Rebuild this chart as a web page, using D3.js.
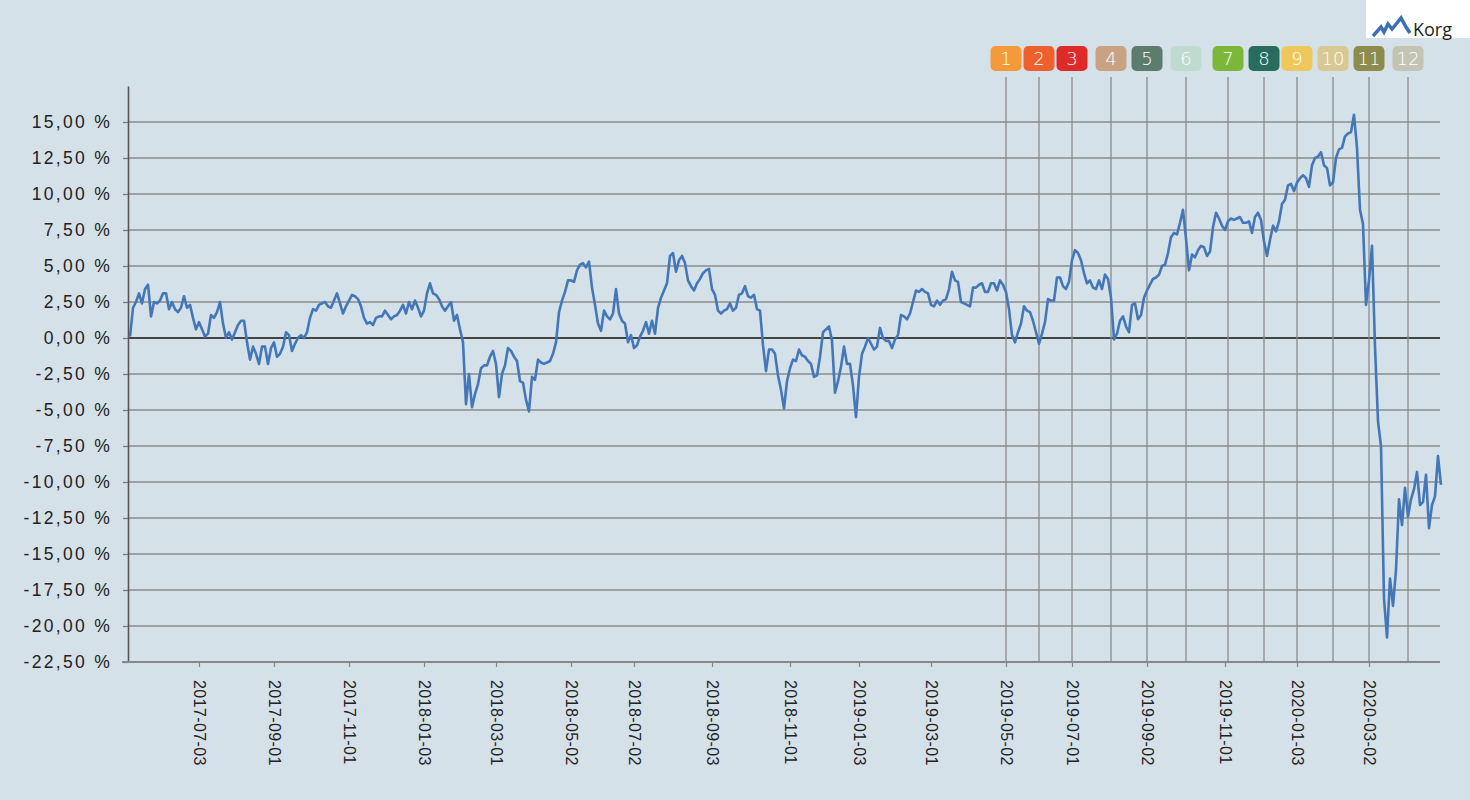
<!DOCTYPE html>
<html>
<head>
<meta charset="utf-8">
<script src="https://cdn.jsdelivr.net/npm/d3@7"></script>
<style>
  body { margin: 0; background: #d5e1e8; }
  svg { display: block; font-family: "DejaVu Sans", sans-serif; }
</style>
</head>
<body>
<div id="chart"></div>
<script>
// Avkastning (%) för korgen, ett värde per steg längs tidsaxeln
const avkastning = [
    0.1, 2.1, 2.5, 3.1, 2.4, 3.4, 3.7, 1.5, 2.5, 2.4,
    2.6, 3.1, 3.1, 2.0, 2.5, 2.0, 1.8, 2.1, 2.9, 2.1,
    2.3, 1.4, 0.6, 1.1, 0.6, 0.1, 0.3, 1.6, 1.4, 1.8,
    2.5, 1.0, 0.0, 0.4, -0.1, 0.4, 0.9, 1.2, 1.2, -0.3,
    -1.5, -0.6, -1.1, -1.8, -0.6, -0.6, -1.8, -0.7, -0.3, -1.3,
    -1.1, -0.6,
    0.4, 0.2, -0.9, -0.4, 0.0, 0.2, 0.0, 0.4, 1.4, 2.0,
    1.9, 2.3, 2.4, 2.5, 2.2, 2.1, 2.6, 3.1, 2.4, 1.7,
    2.2, 2.6, 3.0, 2.9, 2.7, 2.2, 1.4, 1.0, 1.1, 0.9,
    1.4, 1.5, 1.5, 1.9, 1.6, 1.3, 1.5, 1.6, 1.9, 2.3,
    1.7, 2.5, 2.0, 2.6, 2.1, 1.5, 1.9, 3.1, 3.8,
    3.1, 3.0, 2.7, 2.2, 1.9, 2.2, 2.5, 1.2, 1.6, 0.6,
    -0.3, -4.6, -2.5, -4.8, -3.9, -3.2, -2.1, -1.9, -1.9, -1.3,
    -0.9, -1.8, -4.1, -2.5, -1.9, -0.7, -0.9, -1.3, -1.6, -3.0,
    -3.1, -4.3, -5.1, -2.7, -2.9, -1.5, -1.7, -1.8, -1.7, -1.6,
    -1.1, -0.3, 1.8, 2.6, 3.2, 4.0, 4.0, 3.9, 4.7,
    5.1, 5.2, 4.9, 5.3, 3.5, 2.3, 1.0, 0.5, 1.9, 1.5,
    1.3, 1.7, 3.4, 1.7, 1.2, 1.0, -0.3, 0.2, -0.7, -0.5,
    0.1, 0.5, 1.1, 0.3, 1.2, 0.3, 2.1, 2.8, 3.3, 3.8,
    5.7, 5.9, 4.6, 5.4, 5.7, 5.2, 4.0, 3.6, 3.3, 3.8,
    4.1, 4.5, 4.7, 4.8, 3.4, 3.0, 1.9, 1.7, 1.9, 2.0,
    2.4, 1.9, 2.1, 3.0, 3.1, 3.6, 2.9, 2.8, 3.0, 2.0,
    1.9, -0.5, -2.3, -0.8, -0.8, -1.1, -2.6, -3.6, -4.9, -3.0,
    -2.1, -1.5, -1.6, -0.8, -1.2, -1.3, -1.6, -1.8, -2.7, -2.6,
    -1.3, 0.4, 0.6, 0.8, -0.2, -3.8, -3.0, -2.0, -0.6, -1.8,
    -1.8, -3.3, -5.5, -2.7, -1.1, -0.6, 0.0, -0.4, -0.8, -0.6,
    0.7, 0.0, -0.2, -0.2, -0.7, -0.1, 0.2, 1.6, 1.5, 1.3,
    1.7, 2.5, 3.3, 3.2, 3.4, 3.2, 3.1, 2.3, 2.2, 2.6,
    2.3, 2.6, 2.7, 3.4, 4.6, 4.0, 3.9, 2.5, 2.4, 2.3,
    2.2, 3.5, 3.5, 3.7, 3.8, 3.2, 3.2, 3.8, 3.8, 3.3,
    4.0, 3.7, 3.2, 2.0, 0.2, -0.3, 0.4, 1.0, 2.2, 1.9,
    1.8, 1.2, 0.4, -0.4, 0.3, 1.1, 2.7, 2.6, 2.6, 4.2,
    4.2, 3.6, 3.4, 3.9, 5.4, 6.1, 5.9, 5.4, 4.5, 3.8,
    4.0, 3.5, 3.4, 4.0, 3.4, 4.4, 4.1, 2.8, -0.1, 0.3,
    1.2, 1.5, 0.8, 0.4, 2.3, 2.4, 1.3, 1.6, 2.8, 3.3,
    3.7, 4.1, 4.2, 4.4, 5.0, 5.1, 5.9, 7.0, 7.3, 7.2,
    8.0, 8.9, 6.9, 4.7, 5.8, 5.6, 6.1, 6.4, 6.3, 5.7,
    6.0, 7.7, 8.7, 8.3, 7.8, 7.5, 8.1, 8.3, 8.2, 8.3,
    8.4, 8.0, 8.0, 8.1, 7.3, 8.4, 8.7, 8.2, 6.7, 5.7,
    6.8, 7.8, 7.4, 8.1, 9.3, 9.6, 10.6, 10.7, 10.2, 10.8,
    11.1, 11.3, 11.1, 10.5, 12.0, 12.5, 12.6, 12.9, 12.0, 11.8,
    10.6, 10.8, 12.5, 13.1, 13.2, 14.0, 14.2, 14.3, 15.5, 13.2,
    8.9, 7.9, 2.3, 4.0, 6.4, -0.6, -5.8, -7.5, -18.1, -20.8,
    -16.7, -18.6, -16.1, -11.2, -13.0, -10.4, -12.4, -11.2, -10.5, -9.3,
    -11.6, -11.4, -9.5, -13.2, -11.6, -11.0, -8.2, -10.2
];

// Datumetiketter på x-axeln och var i serien de hamnar
const tickLabels = ['2017-07-03', '2017-09-01', '2017-11-01', '2018-01-03', '2018-03-01',
    '2018-05-02', '2018-07-02', '2018-09-03', '2018-11-01', '2019-01-03', '2019-03-01',
    '2019-05-02', '2019-07-01', '2019-09-02', '2019-11-01', '2020-01-03', '2020-03-02'];
const tickIndex = [23, 48, 73, 98, 122, 147, 168, 194, 220, 243, 267, 292, 314, 339, 365, 389, 413];

// Numrerade händelsemarkeringar
const markerLabels = ['1', '2', '3', '4', '5', '6', '7', '8', '9', '10', '11', '12'];
const markerIndex = [292, 303, 314, 327, 339, 352, 366, 378, 389, 401, 413, 426];
const markerColors = ['#f59a3a', '#ee612d', '#df2b27', '#c9a284', '#5b7c6e', '#bfdbd0',
    '#7db73a', '#286d5b', '#efc85b', '#d8c994', '#8c8d4d', '#c3c4b3'];

const yTicks = [15, 12.5, 10, 7.5, 5, 2.5, 0, -2.5, -5, -7.5, -10, -12.5, -15, -17.5, -20, -22.5];

function draw() {
    const width = 1470, height = 800;
    const margin = { top: 86, right: 30, bottom: 138, left: 128 };
    const plotRight = width - margin.right;
    const plotBottom = height - margin.bottom;

    const svg = d3.select('#chart').append('svg')
        .attr('width', width)
        .attr('height', height);

    svg.append('rect')
        .attr('width', width).attr('height', height)
        .attr('fill', '#d5e1e8');

    const x = d3.scaleLinear()
        .domain([0, avkastning.length - 1])
        .range([margin.left + 2, plotRight + 1]);

    const y = d3.scaleLinear()
        .domain([-22.5, 17.5])
        .range([plotBottom, margin.top]);

    const sv = d3.formatLocale({ decimal: ',', thousands: ' ', grouping: [3], currency: ['', ''], minus: '-' });
    const fmt = sv.format('.2f');

    // horisontella stödlinjer
    svg.append('g').selectAll('line')
        .data(yTicks)
        .enter()
        .append('line')
        .attr('x1', margin.left)
        .attr('x2', plotRight)
        .attr('y1', d => y(d))
        .attr('y2', d => y(d))
        .attr('stroke', d => d === 0 ? '#111' : '#8d8d8d')
        .attr('stroke-width', 1.4);

    // vertikala markeringslinjer
    svg.append('g').selectAll('line')
        .data(markerIndex)
        .enter()
        .append('line')
        .attr('x1', d => x(d))
        .attr('x2', d => x(d))
        .attr('y1', 77)
        .attr('y2', plotBottom)
        .attr('stroke', '#8a8a8a')
        .attr('stroke-width', 1.3);

    // y-axel
    const yAxis = svg.append('g')
        .attr('transform', `translate(${margin.left},0)`)
        .call(d3.axisLeft(y)
            .tickValues(yTicks)
            .tickSize(5)
            .tickSizeOuter(0)
            .tickPadding(11)
            .tickFormat(d => fmt(d) + ' %'));
    yAxis.select('.domain').attr('stroke', '#555').attr('stroke-width', 1.6);
    yAxis.selectAll('.tick line').attr('stroke', '#777').attr('stroke-width', 1.3);
    yAxis.selectAll('text')
        .attr('fill', '#222')
        .style('font-size', '17.5px')
        .style('letter-spacing', '2.3px');

    // x-axel
    const xAxis = svg.append('g')
        .attr('transform', `translate(0,${plotBottom})`)
        .call(d3.axisBottom(x)
            .tickValues(tickIndex)
            .tickSize(5)
            .tickSizeOuter(0)
            .tickFormat((d, i) => tickLabels[i]));
    xAxis.select('.domain').remove();
    xAxis.append('line')
        .attr('x1', margin.left - 6)
        .attr('x2', plotRight)
        .attr('stroke', '#888')
        .attr('stroke-width', 2);
    xAxis.selectAll('.tick line').attr('stroke', '#888').attr('stroke-width', 1.2);
    xAxis.selectAll('text')
        .attr('transform', 'rotate(90)')
        .attr('x', 18)
        .attr('y', 0)
        .attr('dy', '0.35em')
        .style('text-anchor', 'start')
        .style('font-size', '16px')
        .style('letter-spacing', '0.4px')
        .attr('fill', '#222');

    // serien
    const line = d3.line()
        .x((d, i) => x(i))
        .y(d => y(d));

    svg.append('path')
        .datum(avkastning)
        .attr('fill', 'none')
        .attr('stroke', '#4477b8')
        .attr('stroke-width', 2.6)
        .attr('stroke-linejoin', 'round')
        .attr('d', line);

    // numrerade brickor
    const badges = svg.append('g').selectAll('g')
        .data(markerIndex)
        .enter()
        .append('g')
        .attr('transform', d => `translate(${x(d)},58.5)`);

    badges.append('rect')
        .attr('x', -15.5).attr('y', -12.5)
        .attr('width', 31).attr('height', 25)
        .attr('rx', 5)
        .attr('fill', (d, i) => markerColors[i]);

    badges.append('text')
        .attr('text-anchor', 'middle')
        .attr('dy', '0.36em')
        .attr('fill', '#fff')
        .style('font-size', '18px')
        .style('font-weight', '300')
        .text((d, i) => markerLabels[i]);

    // logotyp
    const logo = svg.append('g');
    logo.append('rect')
        .attr('x', 1366).attr('y', 0)
        .attr('width', 104).attr('height', 38)
        .attr('fill', '#fff');
    const peaks = [[1373, 36], [1381, 27], [1384, 32], [1388, 24], [1392, 29],
        [1397, 23], [1401, 18], [1406, 27], [1410, 33]];
    logo.append('path')
        .attr('d', d3.line()(peaks))
        .attr('fill', 'none')
        .attr('stroke', '#3d6fb4')
        .attr('stroke-width', 3.5)
        .attr('stroke-linejoin', 'miter');
    logo.append('text')
        .attr('x', 1413).attr('y', 36)
        .attr('fill', '#1e1e1e')
        .style('font-family', '"Open Sans", sans-serif')
        .style('font-size', '18px')
        .text('Korg');
}

draw();
</script>
</body>
</html>
